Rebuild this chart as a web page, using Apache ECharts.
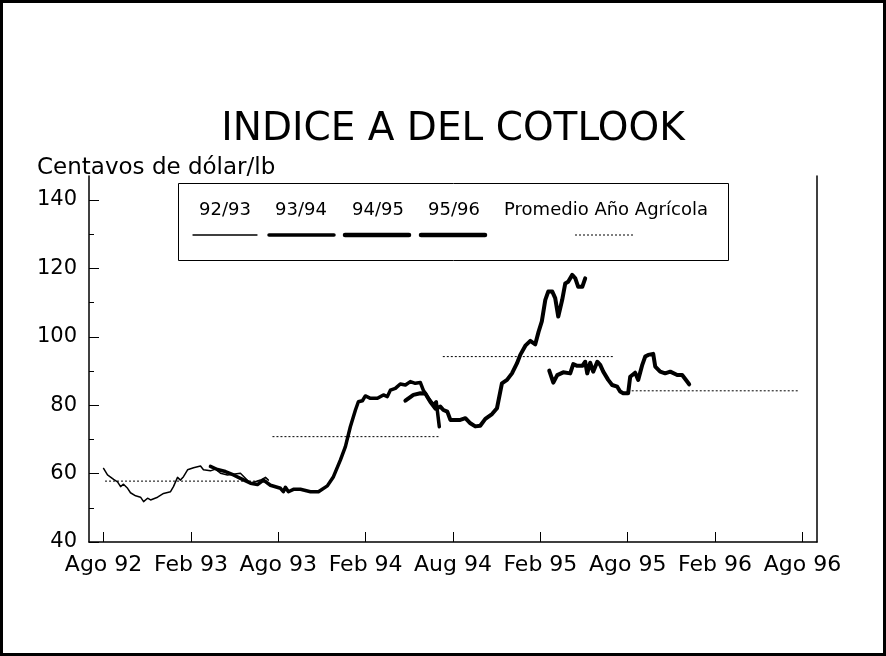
<!DOCTYPE html>
<html>
<head>
<meta charset="utf-8">
<script src="https://cdn.jsdelivr.net/npm/echarts@6/dist/echarts.min.js"></script>
<style>
  html, body { margin: 0; padding: 0; background: #fff; }
  #chart { width: 886px; height: 656px; }
</style>
</head>
<body>
<div id="chart"></div>
<script>
// x = meses desde agosto 1992
var xTickMonths = [0, 6, 12, 18, 24, 30, 36, 42, 48];
var xTickLabels = ['Ago 92', 'Feb 93', 'Ago 93', 'Feb 94', 'Aug 94', 'Feb 95', 'Ago 95', 'Feb 96', 'Ago 96'];
var yTicks = [40, 60, 80, 100, 120, 140];
var yMinorTicks = [50, 70, 90, 110, 130];

var seriesNames = ['92/93', '93/94', '94/95', '95/96'];
var avgName = 'Promedio Año Agrícola';

var s9293 = [[0, 61.5], [0.27, 59.6], [0.69, 58.3], [0.96, 57.6], [1.17, 56.2], [1.37, 56.9], [1.65, 55.7],
  [1.85, 54.4], [2.2, 53.5], [2.54, 53.1], [2.75, 51.8], [3.02, 52.8], [3.23, 52.3], [3.71, 53.1],
  [4.12, 54.2], [4.6, 54.7], [4.8, 56.2], [5.08, 58.9], [5.28, 58.1], [5.49, 59.1], [5.77, 61.1],
  [6.18, 61.7], [6.66, 62.2], [6.86, 61.1], [7.34, 60.8], [7.69, 61.3], [8.03, 60.1], [8.51, 59.6],
  [9.4, 60.1], [10.09, 57.2], [10.78, 58.1], [11.12, 58.9], [11.32, 58.1]];

var s9394 = [[7.34, 62.1], [7.82, 61.2], [8.37, 60.6], [8.92, 59.6], [9.4, 58.6], [10.09, 57.2],
  [10.57, 56.8], [10.98, 58.1], [11.46, 56.6], [12.15, 55.7], [12.35, 54.7], [12.49, 56.0], [12.7, 54.7],
  [13.04, 55.4], [13.52, 55.4], [14.21, 54.7], [14.76, 54.7], [15.37, 56.4], [15.79, 59.1], [16.27, 64.0],
  [16.61, 67.9], [16.95, 73.7], [17.3, 78.6], [17.5, 81.0], [17.78, 81.3], [17.98, 82.7], [18.33, 82.0],
  [18.81, 82.0], [19.22, 83.0], [19.49, 82.5], [19.7, 84.4], [20.04, 84.9], [20.38, 86.2], [20.73, 85.9],
  [21.07, 86.9], [21.41, 86.4], [21.76, 86.6], [21.96, 84.4], [22.31, 82.0], [22.65, 80.1], [22.85, 81.0],
  [23.06, 73.7]];

var s9495 = [[20.73, 81.3], [21.28, 83.0], [21.76, 83.5], [22.1, 83.4], [22.44, 81.0], [22.79, 79.0],
  [23.13, 79.6], [23.34, 78.6], [23.61, 78.1], [23.82, 75.7], [24.16, 75.7], [24.5, 75.7], [24.85, 76.2],
  [25.19, 74.7], [25.53, 73.8], [25.87, 74.0], [26.22, 76.0], [26.68, 77.4], [27.02, 79.1], [27.36, 86.4],
  [27.71, 87.4], [28.05, 89.3], [28.39, 92.2], [28.62, 94.7], [28.97, 97.4], [29.31, 98.8], [29.65, 97.8],
  [29.88, 101.5], [30.1, 104.5], [30.34, 110.8], [30.54, 113.2], [30.82, 113.2], [31.02, 111.3],
  [31.23, 105.9], [31.5, 110.8], [31.71, 115.6], [31.91, 116.1], [32.19, 118.1], [32.4, 117.1],
  [32.6, 114.6], [32.88, 114.6], [33.08, 117.1]];

var s9596 = [[30.61, 90.1], [30.89, 86.6], [31.16, 88.8], [31.57, 89.6], [32.05, 89.3], [32.26, 92.0],
  [32.53, 91.5], [32.88, 91.5], [33.08, 92.7], [33.22, 89.3], [33.42, 92.4], [33.63, 89.8], [33.91, 92.7],
  [34.11, 91.8], [34.32, 89.8], [34.66, 87.4], [34.93, 85.9], [35.28, 85.4], [35.48, 84.0], [35.69, 83.5],
  [36.03, 83.5], [36.17, 88.3], [36.51, 89.5], [36.72, 87.4], [37.0, 91.8], [37.2, 94.2], [37.41, 94.7],
  [37.75, 95.0], [37.89, 91.3], [38.23, 89.8], [38.57, 89.3], [38.92, 89.8], [39.4, 88.8], [39.74, 88.8],
  [40.08, 86.9], [40.22, 86.1]];

// promedios por año agrícola
var avgValues = [57.8, 70.8, 94.2, 84.2];
var avgStart = [0.1, 11.6, 23.3, 36.0];
var avgEnd = [11.3, 23.1, 35.1, 47.8];

var seriesData = [s9293, s9394, s9495, s9596];
var lineWidths = [1.5, 3.5, 4, 4];
var legendWidths = [1.3, 3.5, 4.5, 4.5];

var font = 'DejaVu Sans';
var chart = echarts.init(document.getElementById('chart'));

var series = [];
for (var i = 0; i < seriesData.length; i++) {
  series.push({
    name: seriesNames[i],
    type: 'line',
    data: seriesData[i],
    symbol: 'none',
    lineStyle: { color: '#000', width: lineWidths[i], join: 'round', cap: 'round' }
  });
}
for (var j = 0; j < avgValues.length; j++) {
  series.push({
    name: avgName,
    type: 'line',
    data: [[avgStart[j], avgValues[j]], [avgEnd[j], avgValues[j]]],
    symbol: 'none',
    lineStyle: { color: '#000', width: 1, type: [2, 2] }
  });
}

// leyenda dibujada a mano (texto arriba, línea abajo)
var legendCenters = [225, 301, 378, 454, 606];
var legendLines = [[193, 257], [269, 334], [345, 409], [421, 485], [575, 634]];
var legendNames = seriesNames.concat([avgName]);
var graphic = [
  { type: 'rect', z: 50, shape: { x: 178.5, y: 183.5, width: 550, height: 77 },
    style: { fill: '#fff', stroke: '#000', lineWidth: 1 } }
];
legendNames.forEach(function (n, k) {
  graphic.push({ type: 'text', z: 51, x: legendCenters[k], y: 210,
    style: { text: n, fontFamily: font, fontSize: 18, fill: '#000', align: 'center', verticalAlign: 'middle' } });
  var isAvg = k === legendNames.length - 1;
  graphic.push({ type: 'line', z: 51,
    shape: { x1: legendLines[k][0], y1: 235, x2: legendLines[k][1], y2: 235 },
    style: { stroke: '#000', lineWidth: isAvg ? 1 : legendWidths[k], lineCap: isAvg ? 'butt' : 'round',
      lineDash: isAvg ? [2, 2] : null } });
});
graphic.push({ type: 'text', x: 453, y: 130,
  style: { text: 'INDICE A DEL COTLOOK', fontFamily: font, fontSize: 39, fill: '#000', align: 'center', verticalAlign: 'middle' } });
graphic.push({ type: 'text', x: 37, y: 168,
  style: { text: 'Centavos de dólar/lb', fontFamily: font, fontSize: 23, fill: '#000', align: 'left', verticalAlign: 'middle' } });
graphic.push({ type: 'rect', z: 100, shape: { x: 1.5, y: 1.5, width: 883, height: 653 },
  style: { fill: 'none', stroke: '#000', lineWidth: 3 } });

var axisLine = { show: true, onZero: false, lineStyle: { color: '#000', width: 1.5 } };

var option = {
  backgroundColor: '#fff',
  animation: false,
  grid: { left: 89, right: 69, top: 176, bottom: 114 },
  xAxis: {
    type: 'value', min: -1, max: 49,
    axisLine: axisLine,
    splitLine: { show: false },
    axisTick: { show: true, inside: true, length: 10, customValues: xTickMonths, lineStyle: { color: '#000', width: 1 } },
    axisLabel: {
      customValues: xTickMonths, margin: 12, color: '#000', fontFamily: font, fontSize: 22,
      formatter: function (v) { return xTickLabels[xTickMonths.indexOf(v)]; }
    }
  },
  yAxis: [{
    type: 'value', min: 40, max: 147, position: 'left',
    axisLine: axisLine,
    splitLine: { show: false },
    axisTick: { show: true, inside: true, length: 10, customValues: yTicks, lineStyle: { color: '#000', width: 1 } },
    axisLabel: { customValues: yTicks, margin: 12, color: '#000', fontFamily: font, fontSize: 21 }
  }, {
    // solo marcas menores
    type: 'value', min: 40, max: 147, position: 'left', offset: 0,
    axisLine: { show: false, onZero: false },
    splitLine: { show: false },
    axisTick: { show: true, inside: true, length: 5, customValues: yMinorTicks, lineStyle: { color: '#000', width: 1 } },
    axisLabel: { show: false }
  }, {
    type: 'value', min: 40, max: 147, position: 'right',
    axisLine: axisLine,
    splitLine: { show: false },
    axisTick: { show: false },
    axisLabel: { show: false }
  }],
  graphic: graphic,
  series: series
};
chart.setOption(option);
</script>
</body>
</html>
